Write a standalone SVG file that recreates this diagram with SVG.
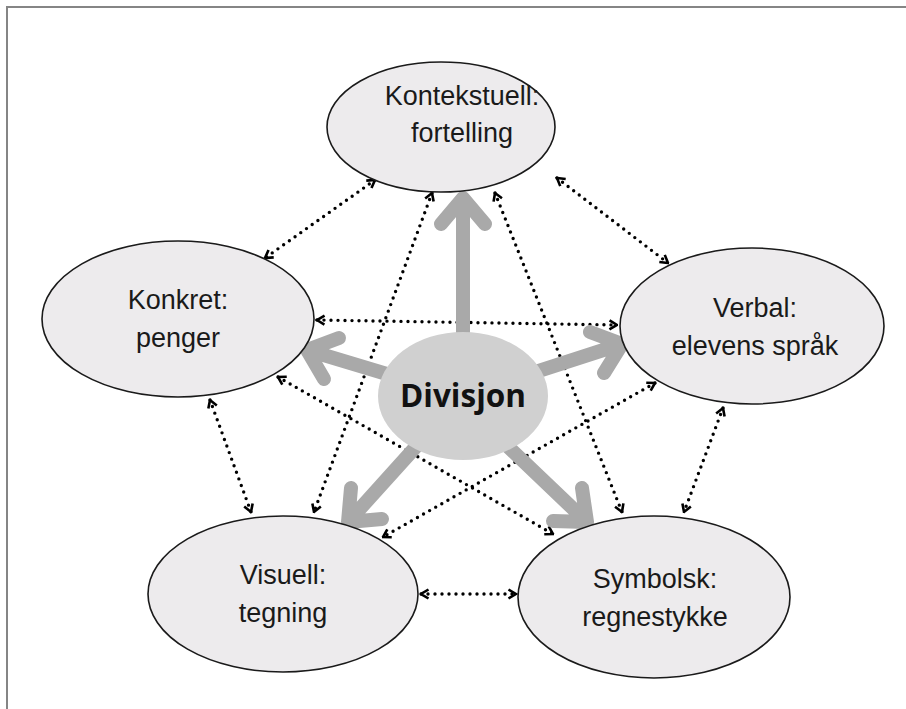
<svg xmlns="http://www.w3.org/2000/svg" width="906" height="709" viewBox="0 0 906 709">
<style>
.node ellipse{fill:#edebed;stroke:#1a1a1a;stroke-width:1.6}
.lbl{font-family:"Liberation Sans",Arial,sans-serif;font-size:27px;fill:#1a1a1a;text-anchor:middle}
.dot{fill:none;stroke:#000;stroke-width:3.4;stroke-linecap:round;stroke-dasharray:0 7;marker-start:url(#ah);marker-end:url(#ah)}
.big{fill:none;stroke:#a9a9a9;stroke-width:14;stroke-linecap:round;stroke-linejoin:round}
</style>
<defs>
<marker id="ah" viewBox="0 0 12 12" refX="10.5" refY="6" markerWidth="12" markerHeight="12" markerUnits="userSpaceOnUse" orient="auto-start-reverse">
<path d="M3,1.5 L10.5,6 L3,10.5" fill="none" stroke="#000" stroke-width="2.6"/>
</marker>
</defs>
<rect x="7" y="7" width="920" height="720" fill="#fff" stroke="#858585" stroke-width="2"/>
<g id="connectors">
<line class="dot" x1="375" y1="180" x2="265" y2="258"/>
<line class="dot" x1="557" y1="178" x2="668" y2="263"/>
<line class="dot" x1="317" y1="320" x2="617" y2="325"/>
<line class="dot" x1="210" y1="400" x2="251" y2="512"/>
<line class="dot" x1="723" y1="408" x2="684" y2="512"/>
<line class="dot" x1="421" y1="594" x2="516" y2="594"/>
<line class="dot" x1="432" y1="193" x2="314" y2="512"/>
<line class="dot" x1="495" y1="193" x2="622" y2="512"/>
<line class="dot" x1="278" y1="377" x2="553" y2="534"/>
<line class="dot" x1="655" y1="383" x2="383" y2="537"/>
<path class="big" d="M463,390 L463,198 M441,224 L463,198 L485,224"/>
<path class="big" d="M440,390 L307,350 M324,379 L307,350 L339,338"/>
<path class="big" d="M480,390 L622,344 M590,332 L622,344 L604,373"/>
<path class="big" d="M440,420 L348,522 M382,519 L348,522 L351,488"/>
<path class="big" d="M480,420 L587,522 M582,488 L587,522 L553,521"/>
</g>
<g id="kontekstuell" class="node">
<ellipse cx="441" cy="127" rx="114" ry="65"/>
<text class="lbl" x="462" y="105">Kontekstuell:</text>
<text class="lbl" x="462" y="142">fortelling</text>
</g>
<g id="konkret" class="node">
<ellipse cx="178" cy="319" rx="136" ry="78"/>
<text class="lbl" x="178" y="309">Konkret:</text>
<text class="lbl" x="178" y="347">penger</text>
</g>
<g id="verbal" class="node">
<ellipse cx="752" cy="326" rx="132" ry="78"/>
<text class="lbl" x="755" y="317">Verbal:</text>
<text class="lbl" x="755" y="355">elevens språk</text>
</g>
<g id="visuell" class="node">
<ellipse cx="283" cy="594" rx="135" ry="78"/>
<text class="lbl" x="283" y="584">Visuell:</text>
<text class="lbl" x="283" y="622">tegning</text>
</g>
<g id="symbolsk" class="node">
<ellipse cx="654" cy="597" rx="136" ry="81"/>
<text class="lbl" x="655" y="588">Symbolsk:</text>
<text class="lbl" x="655" y="626">regnestykke</text>
</g>
<g id="divisjon">
<ellipse cx="463" cy="396" rx="85" ry="64" fill="#d0d0d0"/>
<text x="463" y="407" font-family="'Open Sans','Noto Sans',sans-serif" font-weight="bold" font-size="31.5" fill="#111" text-anchor="middle">Divisjon</text>
</g>
</svg>
